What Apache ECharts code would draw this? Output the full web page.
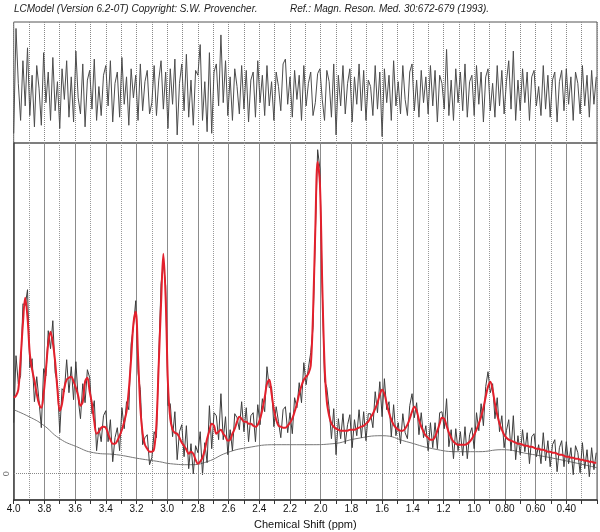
<!DOCTYPE html>
<html>
<head>
<meta charset="utf-8">
<script src="https://cdn.jsdelivr.net/npm/echarts@6/dist/echarts.min.js"></script>
<style>
  html, body { margin: 0; padding: 0; background: #fff; }
  #main { width: 600px; height: 532px; }
</style>
</head>
<body>
<div id="main"></div>
<script>
// spectrum sampled every 0.015 ppm from 4.0 ppm downwards
var ppmStart = 4.0;
var ppmStep = 0.015;

// LCModel fit (red)
var fitValues = [
    76, 78, 84, 115, 150, 176, 156, 120, 104, 93, 80, 70, 66, 80, 104, 130, 142, 131, 112, 84,
    63, 70, 86, 94, 96, 97, 92, 86, 78, 68, 72, 92, 96, 82, 70, 52, 40, 42, 46, 47,
    46, 40, 34, 30, 30, 33, 38, 44, 52, 62, 84, 115, 150, 162, 118, 66, 40, 29, 25, 22,
    22, 25, 50, 110, 170, 220, 175, 90, 55, 44, 41, 40, 36, 31, 28, 24, 20, 22, 20, 14,
    10, 12, 16, 24, 35, 43, 50, 48, 40, 42, 44, 40, 37, 33, 34, 40, 45, 52, 57, 55,
    52, 52, 50, 50, 48, 47, 49, 55, 64, 76, 90, 94, 80, 64, 54, 48, 47, 46, 46, 48,
    51, 55, 62, 70, 80, 88, 94, 97, 100, 108, 160, 245, 312, 290, 190, 110, 72, 58, 50, 47,
    45, 44, 43, 43, 43, 43, 44, 44, 44, 45, 46, 47, 48, 50, 52, 56, 60, 65, 71, 79,
    84, 80, 70, 61, 54, 49, 46, 44, 43, 43, 45, 49, 55, 62, 67, 63, 54, 47, 42, 38,
    36, 34, 34, 37, 43, 50, 56, 55, 48, 41, 36, 32, 30, 29, 29, 29, 29, 30, 32, 35,
    39, 44, 50, 57, 66, 77, 87, 92, 84, 70, 59, 50, 44, 39, 36, 34, 33, 32, 31, 30,
    30, 29, 28, 28, 27, 27, 26, 25, 25, 24, 24, 23, 22, 22, 21, 21, 20, 19, 19, 18,
    17, 17, 16, 16, 15, 15, 14, 14, 13, 13, 12, 12, 11, 11
];

// residual (top panel), data minus fit
var residualValues = [
    -25, 40, 6, -17, 20, -8, 28, -14, 11, -21, 17, 3, -20, 25, -6, 13, -17, 22, -11, 7,
    -22, 15, -4, 20, -15, 10, -18, 26, -3, -13, 18, -21, 8, 14, -10, 21, -17, 4, -14, 11,
    17, -8, 20, -18, 6, 13, -15, 22, -7, 10, -20, 15, -3, 11, -17, 18, -11, 7, 14, -13,
    -6, 17, -14, 8, 20, -10, 13, -22, 15, -7, 21, -26, 6, 18, -11, 24, -15, 8, -20, 14,
    11, 30, -17, 7, -24, 25, -25, 13, 18, -8, 36, -6, 20, -14, 10, -17, 15, 4, -13, 17,
    -10, 14, -18, 8, 13, -15, 20, -6, 11, -14, 17, -8, 7, -17, 13, 4, -11, 18, 21, -7,
    10, -15, 14, -4, 11, -17, 17, -8, 6, 13, -14, -6, 12, 15, -4, -17, 14, 7, -15, 18,
    -26, 11, -8, 17, -13, 6, 15, -18, 10, -7, 18, -11, 14, -17, 8, 4, -14, 17, -10, 13,
    -27, 15, -6, 11, -17, 20, -8, 7, -13, 17, -4, -14, 13, 18, -11, 8, -15, 14, -6, 10,
    -13, 17, -8, 14, -18, 11, 6, -10, 27, -14, 8, -17, 15, -6, 13, -11, 18, -15, 7, 11,
    -14, 17, -7, 13, -18, 10, 15, -11, 6, -15, 17, -8, 14, -13, 7, 20, -10, 26, -17, 8,
    -11, 15, -6, 13, -17, 10, 14, -8, 4, -14, 17, -10, 11, -15, 8, 13, -18, 7, 14, -11,
    15, -7, 10, -17, 13, 6, -13, 17, -8, 11, -15, 14, -7, 10
];

// smooth baseline (gray)
var baselinePpm = [4.0, 3.9, 3.81, 3.7, 3.59, 3.48, 3.33, 3.18, 3.05, 2.98, 2.85, 2.74, 2.61, 2.48,
    2.29, 2.07, 1.92, 1.77, 1.6, 1.44, 1.27, 1.1, 0.97, 0.82, 0.65, 0.47, 0.2];
var baselineValues = [64, 57, 49, 35, 27, 21, 19, 15, 12, 10, 9, 12, 21, 26,
    29, 29, 30, 35, 38, 32, 25, 22, 22, 24, 20, 15, 6];

var titleLeft = 'LCModel (Version 6.2-0T) Copyright: S.W. Provencher.';
var titleRight = 'Ref.: Magn. Reson. Med. 30:672-679 (1993).';
var xName = 'Chemical Shift (ppm)';

var fontName = '"Liberation Sans", Arial, sans-serif';

var fitData = [], residualData = [], spectrumData = [], baselineData = [];
for (var i = 0; i < fitValues.length; ++i) {
    var ppm = +(ppmStart - i * ppmStep).toFixed(3);
    fitData.push([ppm, fitValues[i]]);
    residualData.push([ppm, residualValues[i]]);
    // measured spectrum = fit + residual
    spectrumData.push([ppm, fitValues[i] + residualValues[i]]);
}
for (var j = 0; j < baselinePpm.length; ++j) {
    baselineData.push([baselinePpm[j], baselineValues[j]]);
}

var myChart = echarts.init(document.getElementById('main'), null, { renderer: 'canvas' });

var titleStyle = { fontSize: 10, fontStyle: 'italic', fontWeight: 'normal', color: '#222', fontFamily: fontName };

var option = {
    animation: false,
    backgroundColor: '#ffffff',
    textStyle: { fontFamily: fontName },
    title: [{
        text: titleLeft,
        left: 14,
        top: 4,
        padding: 0,
        textStyle: titleStyle
    }, {
        text: titleRight,
        left: 290,
        top: 4,
        padding: 0,
        textStyle: titleStyle
    }],
    grid: [{
        left: 13.7, right: 3, top: 22, height: 121,
        outerBoundsMode: 'none',
        show: true, borderColor: '#555', borderWidth: 1
    }, {
        left: 13.7, right: 3, top: 143, bottom: 32,
        outerBoundsMode: 'none',
        show: true, borderColor: '#555', borderWidth: 1
    }],
    xAxis: [{
        gridIndex: 0,
        type: 'value',
        inverse: true,
        min: 0.2,
        max: 4.0,
        interval: 0.2,
        axisLine: { show: false, onZero: false },
        axisTick: { show: false },
        axisLabel: { show: false },
        minorTick: { show: false, splitNumber: 2 },
        splitLine: { show: true, lineStyle: { color: '#888', type: 'dotted', width: 1 } },
        minorSplitLine: { show: true, lineStyle: { color: '#888', type: 'dotted', width: 1 } }
    }, {
        gridIndex: 1,
        type: 'value',
        inverse: true,
        min: 0.2,
        max: 4.0,
        interval: 0.2,
        name: xName,
        nameLocation: 'middle',
        nameGap: 19,
        nameTextStyle: { fontSize: 11, color: '#111', fontFamily: fontName },
        axisLine: { show: true, onZero: false, lineStyle: { color: '#333', width: 1.5 } },
        axisTick: { show: true, inside: false, length: 4, lineStyle: { color: '#333' } },
        minorTick: { show: true, splitNumber: 2, length: 4, lineStyle: { color: '#333' } },
        axisLabel: {
            margin: 4,
            fontSize: 10,
            color: '#111',
            fontFamily: fontName,
            formatter: function(v) {
                if (v < 0.3) {
                    return '';
                }
                return v < 0.95 ? v.toFixed(2) : v.toFixed(1);
            }
        },
        splitLine: { show: true, lineStyle: { color: '#8c8c8c', type: 'solid', width: 1 } },
        minorSplitLine: { show: true, lineStyle: { color: '#999', type: 'dotted', width: 1 } }
    }],
    yAxis: [{
        gridIndex: 0,
        type: 'value',
        min: -31,
        max: 44,
        axisLine: { show: false, onZero: false },
        axisTick: { show: false },
        axisLabel: { show: false },
        splitLine: { show: false }
    }, {
        gridIndex: 1,
        type: 'value',
        min: -26.3,
        max: 330.7,
        axisLine: { show: true, onZero: false, lineStyle: { color: '#444', width: 1.5 } },
        axisTick: { show: false },
        axisLabel: {
            rotate: 90,
            margin: 3,
            fontSize: 9,
            color: '#777',
            formatter: function(v) {
                return v === 0 ? '0' : '';
            }
        },
        splitLine: { show: false }
    }],
    series: [{
        name: 'residual',
        type: 'line',
        xAxisIndex: 0,
        yAxisIndex: 0,
        data: residualData,
        showSymbol: false,
        lineStyle: { color: '#4d4d4d', width: 1 }
    }, {
        name: 'baseline',
        type: 'line',
        xAxisIndex: 1,
        yAxisIndex: 1,
        data: baselineData,
        showSymbol: false,
        smooth: 0.5,
        lineStyle: { color: '#777', width: 1 },
        markLine: {
            silent: true,
            symbol: 'none',
            label: { show: false },
            lineStyle: { color: '#888', type: 'dotted', width: 1 },
            data: [{ yAxis: 0 }]
        }
    }, {
        name: 'data',
        type: 'line',
        xAxisIndex: 1,
        yAxisIndex: 1,
        data: spectrumData,
        showSymbol: false,
        lineStyle: { color: '#3d3d3d', width: 1 }
    }, {
        name: 'fit',
        type: 'line',
        xAxisIndex: 1,
        yAxisIndex: 1,
        data: fitData,
        showSymbol: false,
        smooth: 0.35,
        lineStyle: { color: '#e3202c', width: 2 },
        z: 5
    }]
};

myChart.setOption(option);
</script>
</body>
</html>
